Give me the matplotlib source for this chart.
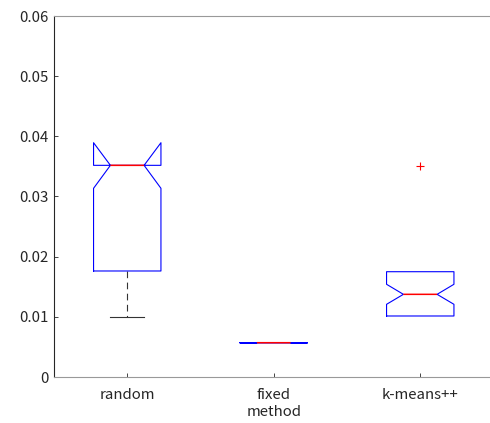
import matplotlib
matplotlib.use("Agg")
import matplotlib.pyplot as plt

plt.rcParams["font.family"] = ["Noto Sans CJK JP", "DejaVu Sans"]

# ── Data ──────────────────────────────────────────────────────────────────────
methods   = ["random", "fixed", "k-means++"]
q1        = [0.01762, 0.0057, 0.01014]
medians   = [0.03518, 0.0057, 0.01374]
q3        = [0.03518, 0.0057, 0.01750]
notch_lo  = [0.03136, 0.0057, 0.01208]
notch_hi  = [0.03894, 0.0057, 0.01541]
whisk_lo  = [0.01005, 0.0057, 0.01014]
whisk_hi  = [0.03518, 0.0057, 0.01750]
outliers  = [[], [], [0.03507]]

yticks = [0, 0.01, 0.02, 0.03, 0.04, 0.05, 0.06]
ytick_labels = ["0", "0.01", "0.02", "0.03", "0.04", "0.05", "0.06"]

# ── Plot ──────────────────────────────────────────────────────────────────────
stats = []
for i, m in enumerate(methods):
    stats.append({
        "label": m, "q1": q1[i], "med": medians[i], "q3": q3[i],
        "cilo": notch_lo[i], "cihi": notch_hi[i],
        "whislo": whisk_lo[i], "whishi": whisk_hi[i], "fliers": outliers[i],
    })

fig = plt.figure(figsize=(4.90, 4.23), dpi=100)
ax = fig.add_axes([54 / 490, 46 / 423, 439.5 / 490, 361 / 423])

parts = ax.bxp(stats, positions=[1, 2, 3], widths=0.46, shownotches=True,
               boxprops=dict(color="blue", linewidth=0.8),
               medianprops=dict(color="red", linewidth=1.1),
               whiskerprops=dict(color="#333333", linewidth=0.8, linestyle=(0, (6, 4))),
               capprops=dict(color="#333333", linewidth=0.8),
               flierprops=dict(marker="+", markeredgecolor="red", markersize=6,
                               markeredgewidth=0.8, linestyle="none"))

# whiskers that collapse onto the box edge are not shown (as in MATLAB)
for i in range(len(methods)):
    if whisk_lo[i] >= q1[i]:
        parts["whiskers"][2 * i].set_visible(False)
        parts["caps"][2 * i].set_visible(False)
    if whisk_hi[i] <= q3[i]:
        parts["whiskers"][2 * i + 1].set_visible(False)
        parts["caps"][2 * i + 1].set_visible(False)

for ln in parts["boxes"]:
    ln.set_zorder(3)
    ln.set_snap(False)
for ln in parts["medians"]:
    ln.set_zorder(4)
    ln.set_snap(False)

ax.set_xlim(0.5, 3.5)
ax.set_ylim(0, 0.06)
ax.set_yticks(yticks)
ax.set_yticklabels(ytick_labels)
ax.set_xticks([1, 2, 3])
ax.set_xticklabels(methods)
ax.set_xlabel("method", fontsize=10.8, color="#262626", labelpad=2)

ax.tick_params(axis="both", direction="in", length=3, width=0.6,
               colors="#262626", labelsize=10.8)
ax.tick_params(axis="x", pad=8)
ax.tick_params(axis="y", pad=4)

ax.spines["left"].set_color("#262626")
ax.spines["top"].set_color("#999999")
ax.spines["bottom"].set_color("#999999")
ax.spines["right"].set_visible(False)
for s in ax.spines.values():
    s.set_linewidth(0.8)

plt.savefig("out.png", dpi=100)
plt.close()
